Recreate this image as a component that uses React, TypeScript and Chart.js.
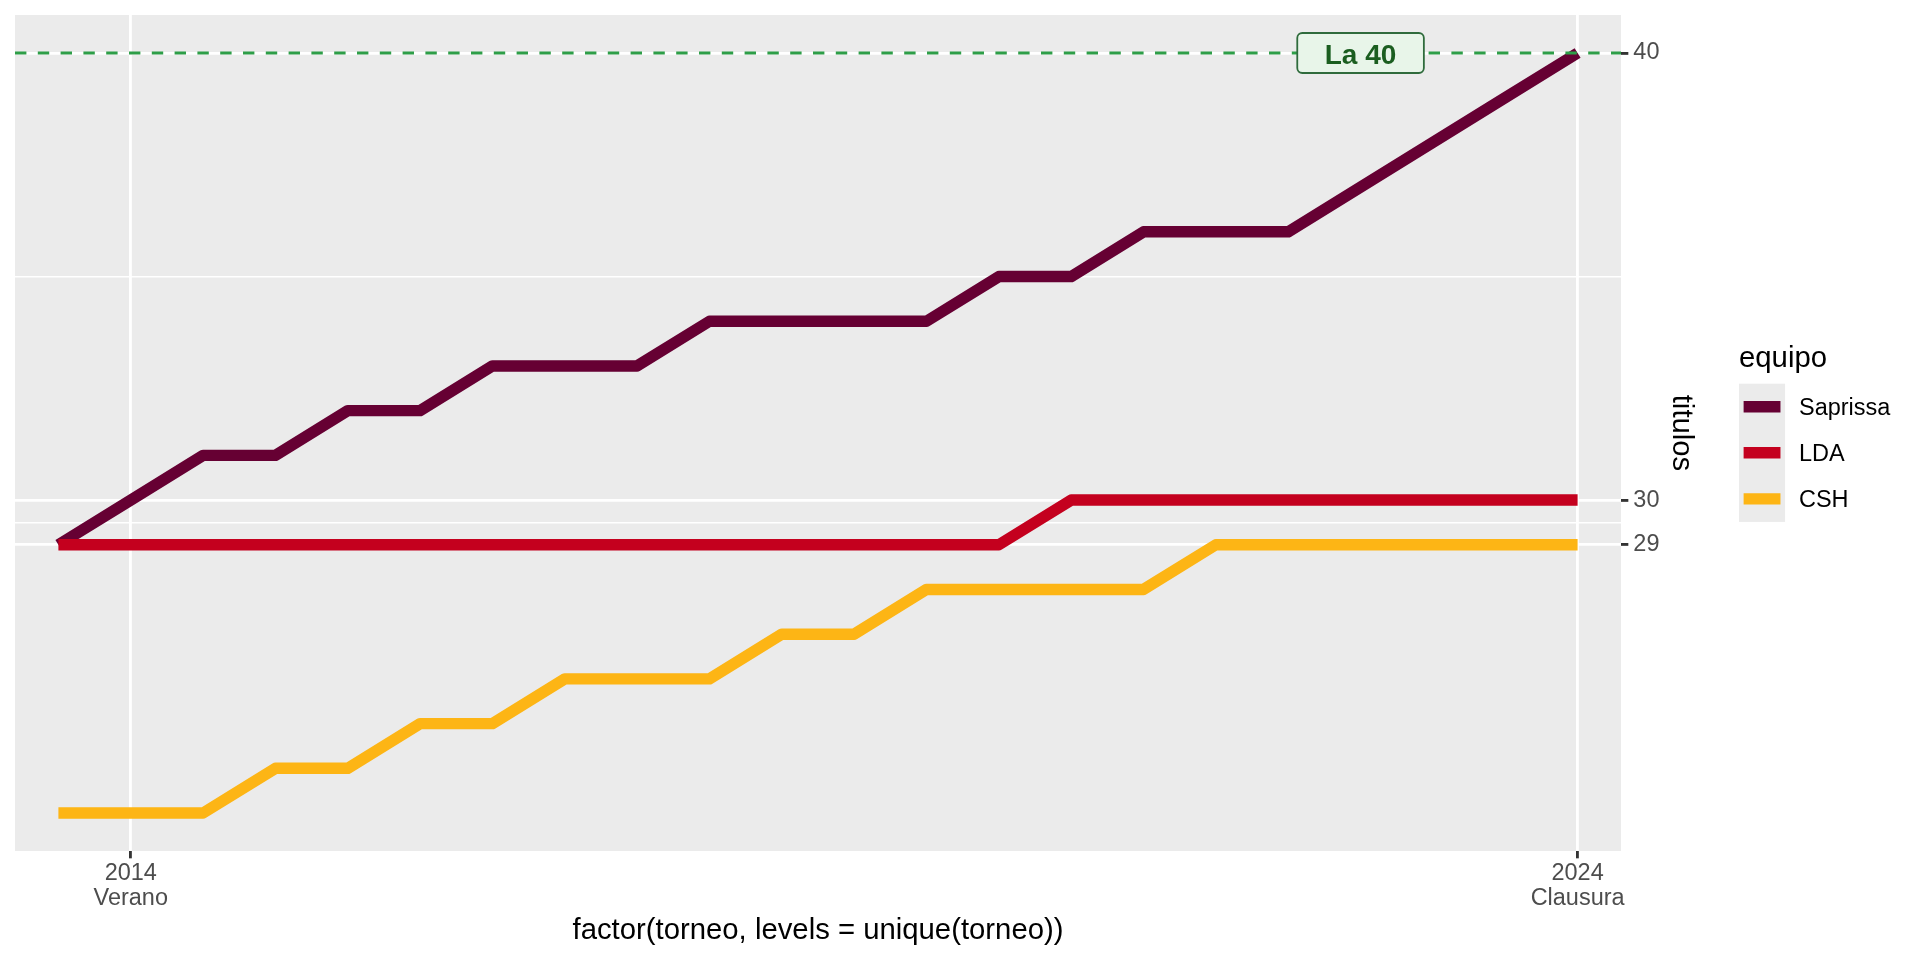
import React, { useEffect, useRef } from "react";
import { Chart, registerables } from "chart.js";

Chart.register(...registerables);

// ---------- data ----------
const torneos = [
  "2013\nInvierno", "2014\nVerano", "2014\nInvierno", "2015\nVerano", "2015\nInvierno",
  "2016\nVerano", "2016\nInvierno", "2017\nVerano", "2017\nInvierno", "2018\nClausura",
  "2018\nApertura", "2019\nClausura", "2019\nApertura", "2020\nClausura", "2020\nApertura",
  "2021\nClausura", "2021\nApertura", "2022\nClausura", "2022\nApertura", "2023\nClausura",
  "2023\nApertura", "2024\nClausura",
];
const equipos = ["Saprissa", "LDA", "CSH"];
const saprissa = [29, 30, 31, 31, 32, 32, 33, 33, 33, 34, 34, 34, 34, 35, 35, 36, 36, 36, 37, 38, 39, 40];
const lda = [29, 29, 29, 29, 29, 29, 29, 29, 29, 29, 29, 29, 29, 29, 30, 30, 30, 30, 30, 30, 30, 30];
const csh = [23, 23, 23, 24, 24, 25, 25, 26, 26, 26, 27, 27, 28, 28, 28, 28, 29, 29, 29, 29, 29, 29];
const colores = ["#660033", "#C4001E", "#FDB515"];
const xTickIdx = [1, 21];
const yMajor = [29, 30, 40];
const yMinor = [29.5, 35];
const yMin = 22.15;
const yMax = 40.85;
const xMin = -0.6;
const xMax = 21.6;
const metaValor = 40;
const metaTexto = "La 40";
const metaIdx = 18;
const xTitulo = "factor(torneo, levels = unique(torneo))";
const yTitulo = "titulos";
const leyendaTitulo = "equipo";

const FONT = '"Liberation Sans", Arial, Helvetica, sans-serif';

const ggPlugin = {
  id: "ggPlugin",
  beforeDraw(chart: any) {
    const { ctx, chartArea: a, width, height } = chart;
    ctx.save();
    ctx.fillStyle = "#FFFFFF";
    ctx.fillRect(0, 0, width, height);
    ctx.fillStyle = "#EBEBEB";
    ctx.fillRect(a.left, a.top, a.right - a.left, a.bottom - a.top);
    ctx.restore();
  },
  afterDatasetsDraw(chart: any) {
    const { ctx, chartArea: a, scales } = chart;
    const y = scales.y.getPixelForValue(metaValor);
    ctx.save();
    // dashed reference line
    ctx.strokeStyle = "#2E9E48";
    ctx.lineWidth = 2.84;
    ctx.setLineDash([11.4, 11.4]);
    ctx.beginPath();
    ctx.moveTo(a.left, y);
    ctx.lineTo(a.right, y);
    ctx.stroke();
    ctx.setLineDash([]);
    // label
    const x = scales.x.getPixelForValue(metaIdx);
    ctx.font = `bold 28px ${FONT}`;
    const tw = ctx.measureText(metaTexto).width;
    const w = tw + 55;
    const h = 40;
    const bx = x - w / 2;
    const by = y - h / 2;
    const r = 5;
    ctx.beginPath();
    ctx.moveTo(bx + r, by);
    ctx.lineTo(bx + w - r, by);
    ctx.arcTo(bx + w, by, bx + w, by + r, r);
    ctx.lineTo(bx + w, by + h - r);
    ctx.arcTo(bx + w, by + h, bx + w - r, by + h, r);
    ctx.lineTo(bx + r, by + h);
    ctx.arcTo(bx, by + h, bx, by + h - r, r);
    ctx.lineTo(bx, by + r);
    ctx.arcTo(bx, by, bx + r, by, r);
    ctx.closePath();
    ctx.fillStyle = "#E8F5E9";
    ctx.fill();
    ctx.strokeStyle = "#2F6B3C";
    ctx.lineWidth = 1.8;
    ctx.stroke();
    ctx.fillStyle = "#1B5E20";
    ctx.textAlign = "center";
    ctx.textBaseline = "alphabetic";
    ctx.fillText(metaTexto, x, y + 10.5);
    ctx.restore();
  },
  afterDraw(chart: any) {
    const { ctx, chartArea: a } = chart;
    ctx.save();
    ctx.fillStyle = "#000000";
    // x title
    ctx.font = `29.3px ${FONT}`;
    ctx.textAlign = "center";
    ctx.textBaseline = "alphabetic";
    ctx.fillText(xTitulo, (a.left + a.right) / 2, 939);
    // y title (right, rotated clockwise)
    ctx.save();
    ctx.translate(1673, (a.top + a.bottom) / 2);
    ctx.rotate(Math.PI / 2);
    ctx.textAlign = "center";
    ctx.textBaseline = "alphabetic";
    ctx.fillText(yTitulo, 0, 0);
    ctx.restore();
    // legend
    const lx = 1739;
    ctx.textAlign = "left";
    ctx.textBaseline = "alphabetic";
    ctx.font = `29.3px ${FONT}`;
    ctx.fillText(leyendaTitulo, lx, 367);
    const keyTop = 383.7;
    const key = 46.08;
    const ds = chart.data.datasets;
    ctx.fillStyle = "#EBEBEB";
    ctx.fillRect(lx, keyTop, key, key * ds.length);
    ds.forEach((d: any, i: number) => {
      const cy = keyTop + key * i + key / 2;
      ctx.strokeStyle = d.borderColor;
      ctx.lineWidth = 11.4;
      ctx.lineCap = "butt";
      ctx.beginPath();
      ctx.moveTo(lx + key * 0.1, cy);
      ctx.lineTo(lx + key * 0.9, cy);
      ctx.stroke();
      ctx.fillStyle = "#000000";
      ctx.font = `23.47px ${FONT}`;
      ctx.fillText(d.label, 1799, cy + 8.4);
    });
    ctx.restore();
  },
};

export default function App() {
  const ref = useRef<HTMLCanvasElement | null>(null);

  useEffect(() => {
    document.body.style.margin = "0";
    document.body.style.overflow = "hidden";
    const canvas = ref.current;
    if (!canvas) return;
    const series = [saprissa, lda, csh];
    const tickFont = { family: FONT, size: 23.47, lineHeight: 1.065 };
    const chart = new Chart(canvas, {
      type: "line",
      data: {
        datasets: series.map((s, i) => ({
          label: equipos[i],
          data: s.map((v, j) => ({ x: j, y: v })),
          borderColor: colores[i],
          backgroundColor: colores[i],
          borderWidth: 11.4,
          borderJoinStyle: "round",
          borderCapStyle: "butt",
          pointRadius: 0,
          pointHoverRadius: 0,
          tension: 0,
          fill: false,
          order: series.length - i,
        })),
      },
      options: {
        animation: false,
        responsive: false,
        devicePixelRatio: 1,
        events: [],
        layout: { padding: { left: 15, top: 15, right: 0, bottom: 0 } },
        plugins: {
          legend: { display: false },
          tooltip: { enabled: false },
          title: { display: false },
        },
        scales: {
          x: {
            type: "linear",
            min: xMin,
            max: xMax,
            afterBuildTicks: (s: any) => {
              s.ticks = xTickIdx.map((v) => ({ value: v }));
            },
            afterFit: (s: any) => {
              s.height = 109;
              s.paddingLeft = 0;
              s.paddingRight = 0;
            },
            border: { display: false },
            grid: {
              color: "#FFFFFF",
              lineWidth: 2.84,
              tickColor: "#333333",
              tickWidth: 2.84,
              tickLength: 7.33,
              drawTicks: true,
            },
            ticks: {
              autoSkip: false,
              maxRotation: 0,
              minRotation: 0,
              padding: 2.5,
              color: "#4D4D4D",
              font: tickFont,
              callback: (v: any) => {
                const t = torneos[Math.round(Number(v))];
                return t ? t.split("\n") : "";
              },
            },
          },
          y: {
            type: "linear",
            position: "right",
            min: yMin,
            max: yMax,
            afterBuildTicks: (s: any) => {
              s.ticks = [...yMajor, ...yMinor].sort((p, q) => p - q).map((v) => ({ value: v }));
            },
            afterFit: (s: any) => {
              s.width = 1920 - 1621;
              s.paddingTop = 0;
              s.paddingBottom = 0;
            },
            border: { display: false },
            grid: {
              color: "#FFFFFF",
              lineWidth: (c: any) => (c.tick && yMinor.includes(c.tick.value) ? 1.42 : 2.84),
              tickColor: (c: any) => (c.tick && yMinor.includes(c.tick.value) ? "rgba(0,0,0,0)" : "#333333"),
              tickWidth: 2.84,
              tickLength: 7.33,
            },
            ticks: {
              autoSkip: false,
              padding: 5,
              color: "#4D4D4D",
              font: { family: FONT, size: 23.47 },
              callback: (v: any) => (yMinor.includes(Number(v)) ? "" : String(v)),
            },
          },
        },
      } as any,
      plugins: [ggPlugin],
    });
    return () => chart.destroy();
  }, []);

  return (
    <div style={{ width: 1920, height: 960, position: "relative" }}>
      <canvas ref={ref} width={1920} height={960} style={{ display: "block", width: 1920, height: 960 }} />
    </div>
  );
}
